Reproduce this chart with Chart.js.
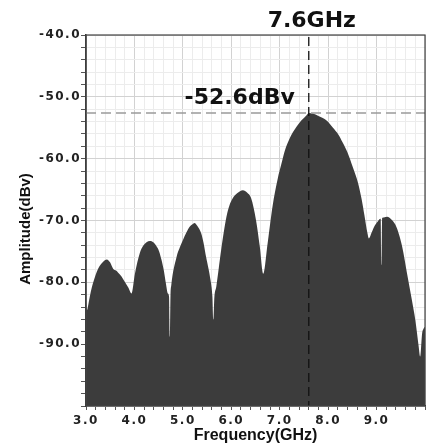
<!DOCTYPE html>
<html>
<head>
<meta charset="utf-8">
<script src="https://cdn.jsdelivr.net/npm/chart.js@4.4.1/dist/chart.umd.min.js"></script>
<style>
  html, body { margin: 0; padding: 0; background: #fff; }
  #wrap { width: 429px; height: 444px; position: relative; }
</style>
</head>
<body>
<div id="wrap"><canvas id="spec"></canvas></div>
<script>
/* Spectrum plot: amplitude (dBV) vs frequency (GHz), filled trace with peak marker. */

const FREQ_GHZ = [
  3.00, 3.02, 3.05, 3.10, 3.15, 3.25, 3.35, 3.43, 3.50, 3.56, 3.62, 3.66, 3.73, 3.80, 3.87, 3.94,
  4.01, 4.11, 4.18, 4.25, 4.32, 4.39, 4.45, 4.51, 4.56, 4.61, 4.65, 4.69, 4.715, 4.73, 4.745,
  4.76, 4.87, 4.94, 5.00, 5.07, 5.14, 5.20, 5.24, 5.30, 5.38, 5.43, 5.48, 5.53, 5.57, 5.61, 5.63, 5.65,
  5.69, 5.79, 5.90, 5.96, 6.03, 6.12, 6.24, 6.33, 6.41, 6.51, 6.59, 6.66,
  6.75, 6.85, 6.96, 7.03, 7.11, 7.20, 7.35, 7.45, 7.55, 7.60, 7.68, 7.80, 7.98, 8.10, 8.21, 8.30, 8.40,
  8.51, 8.62, 8.69, 8.75, 8.81, 8.84,
  8.90, 8.95, 9.02, 9.08, 9.085, 9.10, 9.115, 9.15, 9.22, 9.30, 9.39, 9.46, 9.53, 9.63, 9.73, 9.80,
  9.87, 9.90, 9.94, 9.97, 10.0,
];
const AMP_DBV = [
  -83.3, -84.5, -83.5, -81.5, -80.0, -77.8, -76.7, -76.3, -76.8, -77.8, -78.1, -78.4, -79.0, -79.9, -80.8, -81.8,
  -78.6, -75.3, -74.1, -73.5, -73.3, -73.5, -74.1, -75.0, -76.4, -78.2, -80.2, -81.8, -82.3, -88.8, -82.0,
  -80.5, -75.9, -74.3, -73.2, -72.0, -71.0, -70.6, -70.4, -70.9, -72.1, -73.7, -75.9, -77.8, -79.6, -82.3, -86.0, -82.5,
  -80.7, -74.8, -69.4, -67.6, -66.4, -65.6, -65.1, -65.5, -66.4, -69.9, -74.3, -78.6,
  -73.7, -67.8, -63.2, -61.0, -58.6, -56.8, -54.8, -53.8, -53.0, -52.6, -52.7, -53.1, -53.9, -55.0, -56.1, -57.4, -59.0,
  -61.4, -64.0, -66.5, -69.2, -72.0, -72.9,
  -71.9, -71.0, -70.2, -69.7, -69.7, -77.2, -69.6, -69.5, -69.4, -69.8, -70.7, -72.2, -74.3, -78.6, -82.9, -86.1,
  -90.4, -92.0, -88.3, -87.5, -87.2,
];

const PEAK_FREQ = 7.6;
const PEAK_AMP = -52.6;

const X_MIN = 3, X_MAX = 10, X_STEP = 0.2;
const Y_MIN = -100, Y_MAX = -40, Y_STEP = 2;

const TRACE = "#3c3c3c";
const GRID_MAJOR = "#d2d2d2";
const GRID_MINOR = "#ececec";
const TICK_FONT = { family: "'DejaVu Sans'", size: 12, weight: "bold" };

function nearInt(v) { return Math.abs(v - Math.round(v)) < 1e-6; }

const points = FREQ_GHZ.map((f, i) => ({ x: f, y: AMP_DBV[i] }));

/* frame, marker lines and text drawn on top of the chart */
const markerPlugin = {
  id: "marker",
  beforeDraw(chart) {
    chart.ctx.letterSpacing = "1.5px";
  },
  afterDatasetsDraw(chart) {
    const { ctx, chartArea: a, scales } = chart;
    const px = scales.x.getPixelForValue(PEAK_FREQ);
    const py = scales.y.getPixelForValue(PEAK_AMP);
    ctx.save();
    ctx.letterSpacing = "0px";
    // horizontal level line
    ctx.strokeStyle = "#9a9a9a";
    ctx.lineWidth = 1.5;
    ctx.setLineDash([10, 5]);
    ctx.beginPath();
    ctx.moveTo(a.left, py);
    ctx.lineTo(a.right, py);
    ctx.stroke();
    // vertical frequency line
    ctx.strokeStyle = "#111";
    ctx.lineWidth = 1.3;
    ctx.setLineDash([9, 5]);
    ctx.beginPath();
    ctx.moveTo(px, a.top + 2);
    ctx.lineTo(px, a.bottom);
    ctx.stroke();
    ctx.restore();
  },
  afterDraw(chart) {
    const { ctx, chartArea: a, scales } = chart;
    const px = scales.x.getPixelForValue(PEAK_FREQ);
    const py = scales.y.getPixelForValue(PEAK_AMP);
    ctx.save();
    ctx.letterSpacing = "0px";
    ctx.setLineDash([]);
    // plot frame
    ctx.strokeStyle = "#444";
    ctx.lineWidth = 1.2;
    ctx.strokeRect(a.left, a.top, a.right - a.left, a.bottom - a.top);

    ctx.fillStyle = "#111";
    ctx.font = "bold 22px 'DejaVu Sans'";
    ctx.textBaseline = "alphabetic";
    ctx.textAlign = "center";
    ctx.fillText(PEAK_FREQ.toFixed(1) + "GHz", px + 3, 27);
    ctx.textAlign = "right";
    ctx.fillText(PEAK_AMP.toFixed(1) + "dBv", px - 14, py - 9);

    // axis titles
    ctx.font = "bold 16px 'Liberation Sans'";
    ctx.textAlign = "center";
    ctx.fillText("Frequency(GHz)", (a.left + a.right) / 2, 440);
    ctx.translate(30, 229);
    ctx.rotate(-Math.PI / 2);
    ctx.font = "bold 15px 'Liberation Sans'";
    ctx.fillText("Amplitude(dBv)", 0, 0);
    ctx.restore();
  },
};

new Chart(document.getElementById("spec"), {
  type: "line",
  data: {
    datasets: [{
      data: points,
      borderColor: TRACE,
      borderWidth: 0,
      backgroundColor: TRACE,
      fill: "start",
      pointRadius: 0,
      cubicInterpolationMode: "monotone",
    }],
  },
  options: {
    responsive: true, maintainAspectRatio: false, animation: false,
    layout: { padding: { top: 35, right: 3, left: 0, bottom: 0 } },
    plugins: { legend: { display: false }, tooltip: { enabled: false } },
    scales: {
      x: {
        type: "linear", min: X_MIN, max: X_MAX,
        afterFit: (s) => { s.height = 38; },
        border: { display: true, color: "#333", width: 1.2 },
        grid: {
          color: (c) => nearInt(c.tick.value) ? GRID_MAJOR : GRID_MINOR,
          tickColor: "#555", tickLength: 4, drawTicks: true,
        },
        ticks: {
          stepSize: X_STEP, autoSkip: false, maxRotation: 0, minRotation: 0, padding: 4,
          color: "#222", font: TICK_FONT,
          callback: (v) => (nearInt(v) && v < 9.5) ? Number(v).toFixed(1) : "",
        },
      },
      y: {
        min: Y_MIN, max: Y_MAX,
        afterFit: (s) => { s.width = 86; },
        border: { display: true, color: "#333", width: 1.5 },
        grid: {
          color: (c) => nearInt(c.tick.value / 10) ? GRID_MAJOR : GRID_MINOR,
          tickColor: "#555", tickLength: 5, drawTicks: true,
        },
        ticks: {
          stepSize: Y_STEP, autoSkip: false, padding: 0,
          color: "#222", font: TICK_FONT,
          callback: (v) => (nearInt(v / 10) && v > Y_MIN) ? Number(v).toFixed(1) : "",
        },
      },
    },
  },
  plugins: [markerPlugin],
});
</script>
</body>
</html>
